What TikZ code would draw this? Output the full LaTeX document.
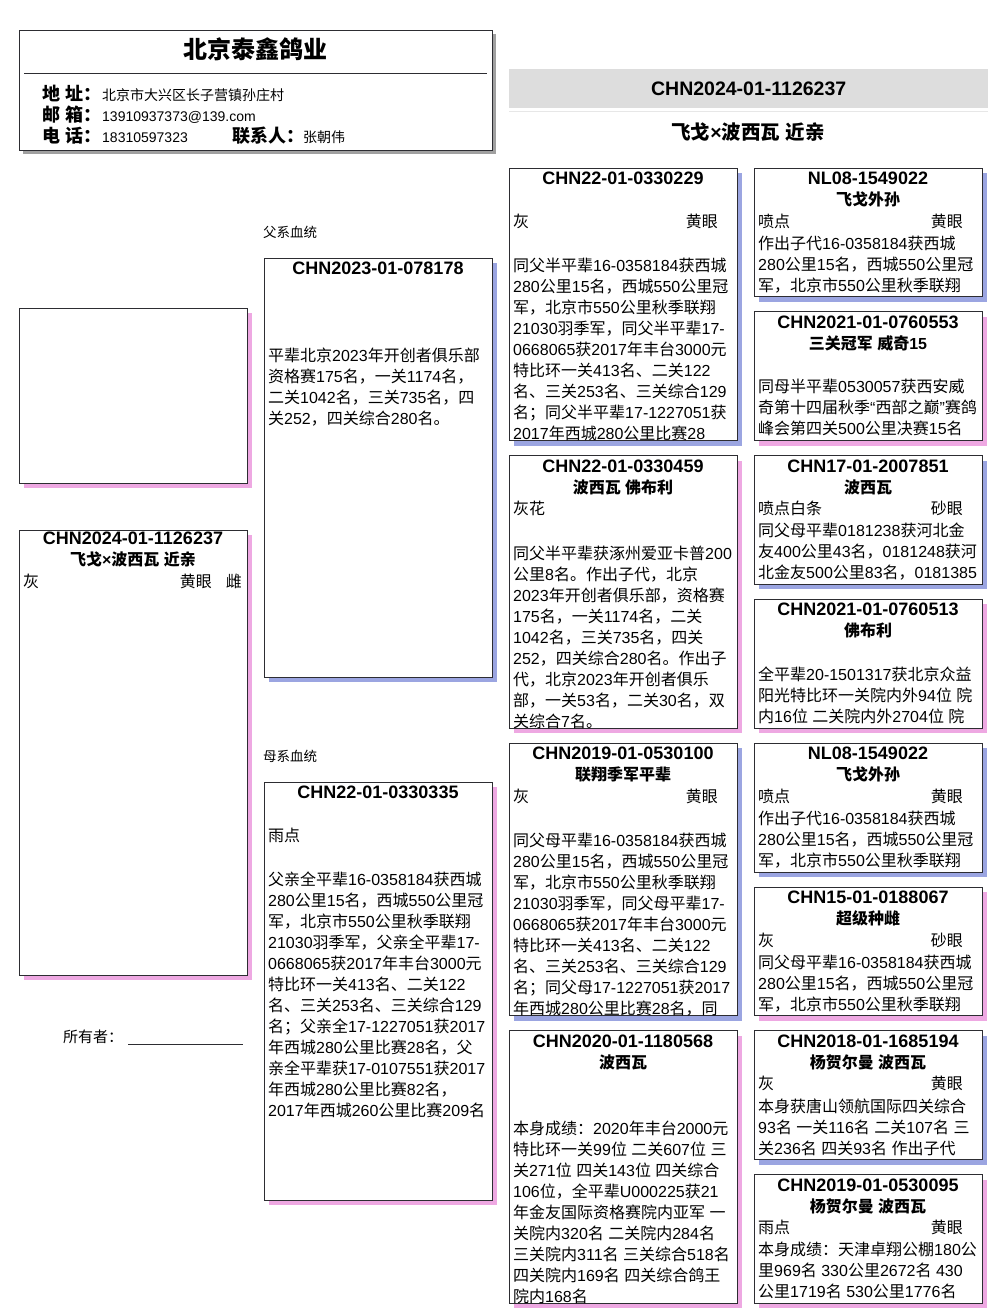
\documentclass[tikz,border=0pt]{standalone}
\usepackage{fontspec}
\setmainfont{Liberation Sans}
\newfontfamily\hanfont{Noto Sans CJK SC}
\newfontfamily\westfont{Liberation Sans}
\usetikzlibrary{positioning, shadows}
\definecolor{CardLine}{RGB}{45, 45, 50}
\definecolor{ShadowBlue}{RGB}{155, 165, 225}
\definecolor{ShadowPink}{RGB}{238, 168, 226}
\definecolor{ShadowGray}{RGB}{160, 160, 160}
\definecolor{BarGray}{RGB}{221, 221, 221}

% Han characters and CJK punctuation switch to the CJK face
\newXeTeXintercharclass\hanclass
\newcount\hanchar
\hanchar="3000 \loop\ifnum\hanchar<"3040 \XeTeXcharclass\hanchar=\hanclass \advance\hanchar by 1 \repeat
\hanchar="4E00 \loop\ifnum\hanchar<"A000 \XeTeXcharclass\hanchar=\hanclass \advance\hanchar by 1 \repeat
\hanchar="FF00 \loop\ifnum\hanchar<"FFF0 \XeTeXcharclass\hanchar=\hanclass \advance\hanchar by 1 \repeat
\XeTeXinterchartokenstate=1
\XeTeXinterchartoks 0 \hanclass = {\hanfont}
\XeTeXinterchartoks 4095 \hanclass = {\hanfont}
\XeTeXinterchartoks \hanclass 0 = {\westfont}
\XeTeXinterchartoks \hanclass 4095 = {\westfont}

\begin{document}
\begin{tikzpicture}[x=1pt, y=-1pt,
    card/.style={draw=CardLine, fill=white, line width=0.8pt, rectangle, inner sep=0pt, outer sep=0pt, minimum width=228pt, anchor=north west},
    sirecard/.style={card, drop shadow={shadow xshift=5pt, shadow yshift=-5pt, fill=ShadowBlue, opacity=1}},
    damcard/.style={card, drop shadow={shadow xshift=5pt, shadow yshift=-5pt, fill=ShadowPink, opacity=1}},
    ringno/.style={font=\fontsize{18}{22}\selectfont\bfseries, inner sep=0pt, anchor=base},
    birdname/.style={font=\fontsize{16}{21}\selectfont\bfseries, inner sep=0pt, anchor=base},
    trait/.style={font=\fontsize{16}{21}\selectfont, inner sep=0pt, anchor=base west},
    eyes/.style={trait, anchor=base east},
    record/.style={font=\fontsize{16}{21}\selectfont, align=left, inner sep=0pt, anchor=north west},
    label/.style={font=\fontsize{18}{22}\selectfont\bfseries, inner sep=0pt, anchor=base west},
    value/.style={font=\fontsize{14}{18}\selectfont, inner sep=0pt, anchor=base west}
  ]
  \useasboundingbox (0,0) rectangle (1006,1316);

  % Loft header
  \node [card, minimum width=473pt, minimum height=120pt, drop shadow={shadow xshift=4pt, shadow yshift=-4pt, fill=ShadowGray, opacity=1}] (head) at (19,30) {};
  \node [font=\fontsize{24}{28}\selectfont\bfseries, inner sep=0pt, anchor=base] (loft) at (255,59) {北京泰鑫鸽业};
  \draw [CardLine, line width=0.8pt] ([xshift=5pt, yshift=-43pt]head.north west) -- ([xshift=-5pt, yshift=-43pt]head.north east);
  \node [label] (addrlbl) at (42,101) {地 址：};
  \node [value] (addr) at (102,101) {北京市大兴区长子营镇孙庄村};
  \node [label] (maillbl) at (42,122) {邮 箱：};
  \node [value] (mail) at (102,122) {13910937373@139.com};
  \node [label] (tellbl) at (42,143) {电 话：};
  \node [value] (tel) at (102,143) {18310597323};
  \node [label] (contactlbl) at (232,143) {联系人：};
  \node [value] (contact) at (303,143) {张朝伟};

  % Title bar
  \node [fill=BarGray, minimum width=479pt, minimum height=39pt, inner sep=0pt, anchor=north west] (bar) at (509,69) {};
  \draw [BarGray!70, line width=1.5pt] ([yshift=-3pt]bar.south west) -- ([yshift=-3pt]bar.south east);
  \node [font=\fontsize{19.5}{24}\selectfont\bfseries, inner sep=0pt] (barid) at (bar.center) {CHN2024-01-1126237};
  \node [font=\fontsize{19.5}{24}\selectfont\bfseries, inner sep=0pt, anchor=base] (subtitle) at (748,140) {飞戈×波西瓦 近亲};

  % Generation 1
  \node [damcard, minimum height=175pt] (photo) at (19,308) {};
  \node [damcard, minimum height=445pt] (bird) at (19,530) {};
  \node [ringno] (birdid) at ([yshift=-14.5pt]bird.north) {CHN2024-01-1126237};
  \node [birdname] (birdnm) at ([yshift=-35pt]bird.north) {飞戈×波西瓦 近亲};
  \node [trait] (birdcol) at ([xshift=4pt, yshift=-57pt]bird.north west) {灰};
  \node [eyes] (birdeye) at ([xshift=-35pt, yshift=-57pt]bird.north east) {黄眼};
  \node [eyes] (birdsex) at ([xshift=-5pt, yshift=-57pt]bird.north east) {雌};
  \node [font=\fontsize{15}{18}\selectfont, inner sep=0pt, anchor=base west] (owner) at (63,1042) {所有者：};
  \draw [CardLine, line width=0.8pt] (128,1044) -- (243,1044);

  % Generation 2
  \node [font=\fontsize{13.5}{16}\selectfont, inner sep=0pt, anchor=base west] (sirelbl) at (263,237) {父系血统};
  \node [sirecard, minimum height=419pt] (sire) at (264,258) {};
  \node [ringno] (sireid) at ([yshift=-16.5pt]sire.north) {CHN2023-01-078178};
  \node [record] (sirerec) at ([xshift=4pt, yshift=-89.5pt]sire.north west) {平辈北京2023年开创者俱乐部\\
    资格赛175名，一关1174名，\\
    二关1042名，三关735名，四\\
    关252，四关综合280名。};

  \node [font=\fontsize{13.5}{16}\selectfont, inner sep=0pt, anchor=base west] (damlbl) at (263,761) {母系血统};
  \node [damcard, minimum height=418pt] (dam) at (264,782) {};
  \node [ringno] (damid) at ([yshift=-16pt]dam.north) {CHN22-01-0330335};
  \node [trait] (damcol) at ([xshift=4pt, yshift=-59pt]dam.north west) {雨点};
  \node [record] (damrec) at ([xshift=4pt, yshift=-89.5pt]dam.north west) {父亲全平辈16-0358184获西城\\
    280公里15名，西城550公里冠\\
    军，北京市550公里秋季联翔\\
    21030羽季军，父亲全平辈17-\\
    0668065获2017年丰台3000元\\
    特比环一关413名、二关122\\
    名、三关253名、三关综合129\\
    名；父亲全17-1227051获2017\\
    年西城280公里比赛28名，父\\
    亲全平辈获17-0107551获2017\\
    年西城280公里比赛82名，\\
    2017年西城260公里比赛209名};

  % Generation 3
  \node [sirecard, minimum height=272.5pt] (ss) at (509,168) {};
  \node [damcard, minimum height=272.5pt, below=15pt of ss] (sd) {};
  \node [sirecard, minimum height=272.5pt, below=15pt of sd] (ds) {};
  \node [damcard, minimum height=272.5pt, below=15pt of ds] (dd) {};

  \node [ringno] (ssid) at ([yshift=-16.5pt]ss.north) {CHN22-01-0330229};
  \node [trait] (sscol) at ([xshift=4pt, yshift=-59pt]ss.north west) {灰};
  \node [eyes] (sseye) at ([xshift=-19pt, yshift=-59pt]ss.north east) {黄眼};
  \begin{scope}
    \clip (ss.north west) rectangle (ss.south east);
    \node [record] (ssrec) at ([xshift=4pt, yshift=-90pt]ss.north west) {同父半平辈16-0358184获西城\\
      280公里15名，西城550公里冠\\
      军，北京市550公里秋季联翔\\
      21030羽季军，同父半平辈17-\\
      0668065获2017年丰台3000元\\
      特比环一关413名、二关122\\
      名、三关253名、三关综合129\\
      名；同父半平辈17-1227051获\\
      2017年西城280公里比赛28};
  \end{scope}

  \node [ringno] (sdid) at ([yshift=-16.5pt]sd.north) {CHN22-01-0330459};
  \node [birdname] (sdnm) at ([yshift=-37.5pt]sd.north) {波西瓦 佛布利};
  \node [trait] (sdcol) at ([xshift=4pt, yshift=-59pt]sd.north west) {灰花};
  \begin{scope}
    \clip (sd.north west) rectangle (sd.south east);
    \node [record] (sdrec) at ([xshift=4pt, yshift=-90pt]sd.north west) {同父半平辈获涿州爱亚卡普200\\
      公里8名。作出子代，北京\\
      2023年开创者俱乐部，资格赛\\
      175名，一关1174名，二关\\
      1042名，三关735名，四关\\
      252，四关综合280名。作出子\\
      代，北京2023年开创者俱乐\\
      部，一关53名，二关30名，双\\
      关综合7名。};
  \end{scope}

  \node [ringno] (dsid) at ([yshift=-16.5pt]ds.north) {CHN2019-01-0530100};
  \node [birdname] (dsnm) at ([yshift=-37.5pt]ds.north) {联翔季军平辈};
  \node [trait] (dscol) at ([xshift=4pt, yshift=-59pt]ds.north west) {灰};
  \node [eyes] (dseye) at ([xshift=-19pt, yshift=-59pt]ds.north east) {黄眼};
  \begin{scope}
    \clip (ds.north west) rectangle (ds.south east);
    \node [record] (dsrec) at ([xshift=4pt, yshift=-90pt]ds.north west) {同父母平辈16-0358184获西城\\
      280公里15名，西城550公里冠\\
      军，北京市550公里秋季联翔\\
      21030羽季军，同父母平辈17-\\
      0668065获2017年丰台3000元\\
      特比环一关413名、二关122\\
      名、三关253名、三关综合129\\
      名；同父母17-1227051获2017\\
      年西城280公里比赛28名，同};
  \end{scope}

  \node [ringno] (ddid) at ([yshift=-16.5pt]dd.north) {CHN2020-01-1180568};
  \node [birdname] (ddnm) at ([yshift=-37.5pt]dd.north) {波西瓦};
  \begin{scope}
    \clip (dd.north west) rectangle (dd.south east);
    \node [record] (ddrec) at ([xshift=4pt, yshift=-90pt]dd.north west) {本身成绩：2020年丰台2000元\\
      特比环一关99位 二关607位 三\\
      关271位 四关143位 四关综合\\
      106位，全平辈U000225获21\\
      年金友国际资格赛院内亚军 一\\
      关院内320名 二关院内284名\\
      三关院内311名 三关综合518名\\
      四关院内169名 四关综合鸽王\\
      院内168名};
  \end{scope}

  % Generation 4
  \node [sirecard, minimum height=128.8pt] (sss) at (754,168) {};
  \node [damcard, minimum height=128.8pt, below=15pt of sss] (ssd) {};
  \node [sirecard, minimum height=128.8pt, below=15pt of ssd] (sds) {};
  \node [damcard, minimum height=128.8pt, below=15pt of sds] (sdd) {};
  \node [sirecard, minimum height=128.8pt, below=15pt of sdd] (dss) {};
  \node [damcard, minimum height=128.8pt, below=15pt of dss] (dsd) {};
  \node [sirecard, minimum height=128.8pt, below=15pt of dsd] (dds) {};
  \node [damcard, minimum height=128.8pt, below=15pt of dds] (ddd) {};

  \node [ringno] (sssid) at ([yshift=-16.5pt]sss.north) {NL08-1549022};
  \node [birdname] (sssnm) at ([yshift=-37.5pt]sss.north) {飞戈外孙};
  \node [trait] (ssscol) at ([xshift=4pt, yshift=-59pt]sss.north west) {喷点};
  \node [eyes] (ssseye) at ([xshift=-19pt, yshift=-59pt]sss.north east) {黄眼};
  \node [record] (sssrec) at ([xshift=4pt, yshift=-67.5pt]sss.north west) {作出子代16-0358184获西城\\
    280公里15名，西城550公里冠\\
    军，北京市550公里秋季联翔};

  \node [ringno] (ssdid) at ([yshift=-16.5pt]ssd.north) {CHN2021-01-0760553};
  \node [birdname] (ssdnm) at ([yshift=-37.5pt]ssd.north) {三关冠军 威奇15};
  \node [record] (ssdrec) at ([xshift=4pt, yshift=-67.5pt]ssd.north west) {同母半平辈0530057获西安威\\
    奇第十四届秋季“西部之巅”赛鸽\\
    峰会第四关500公里决赛15名};

  \node [ringno] (sdsid) at ([yshift=-16.5pt]sds.north) {CHN17-01-2007851};
  \node [birdname] (sdsnm) at ([yshift=-37.5pt]sds.north) {波西瓦};
  \node [trait] (sdscol) at ([xshift=4pt, yshift=-59pt]sds.north west) {喷点白条};
  \node [eyes] (sdseye) at ([xshift=-19pt, yshift=-59pt]sds.north east) {砂眼};
  \node [record] (sdsrec) at ([xshift=4pt, yshift=-67.5pt]sds.north west) {同父母平辈0181238获河北金\\
    友400公里43名，0181248获河\\
    北金友500公里83名，0181385};

  \node [ringno] (sddid) at ([yshift=-16.5pt]sdd.north) {CHN2021-01-0760513};
  \node [birdname] (sddnm) at ([yshift=-37.5pt]sdd.north) {佛布利};
  \node [record] (sddrec) at ([xshift=4pt, yshift=-67.5pt]sdd.north west) {全平辈20-1501317获北京众益\\
    阳光特比环一关院内外94位 院\\
    内16位 二关院内外2704位 院};

  \node [ringno] (dssid) at ([yshift=-16.5pt]dss.north) {NL08-1549022};
  \node [birdname] (dssnm) at ([yshift=-37.5pt]dss.north) {飞戈外孙};
  \node [trait] (dsscol) at ([xshift=4pt, yshift=-59pt]dss.north west) {喷点};
  \node [eyes] (dsseye) at ([xshift=-19pt, yshift=-59pt]dss.north east) {黄眼};
  \node [record] (dssrec) at ([xshift=4pt, yshift=-67.5pt]dss.north west) {作出子代16-0358184获西城\\
    280公里15名，西城550公里冠\\
    军，北京市550公里秋季联翔};

  \node [ringno] (dsdid) at ([yshift=-16.5pt]dsd.north) {CHN15-01-0188067};
  \node [birdname] (dsdnm) at ([yshift=-37.5pt]dsd.north) {超级种雌};
  \node [trait] (dsdcol) at ([xshift=4pt, yshift=-59pt]dsd.north west) {灰};
  \node [eyes] (dsdeye) at ([xshift=-19pt, yshift=-59pt]dsd.north east) {砂眼};
  \node [record] (dsdrec) at ([xshift=4pt, yshift=-67.5pt]dsd.north west) {同父母平辈16-0358184获西城\\
    280公里15名，西城550公里冠\\
    军，北京市550公里秋季联翔};

  \node [ringno] (ddsid) at ([yshift=-16.5pt]dds.north) {CHN2018-01-1685194};
  \node [birdname] (ddsnm) at ([yshift=-37.5pt]dds.north) {杨贺尔曼 波西瓦};
  \node [trait] (ddscol) at ([xshift=4pt, yshift=-59pt]dds.north west) {灰};
  \node [eyes] (ddseye) at ([xshift=-19pt, yshift=-59pt]dds.north east) {黄眼};
  \node [record] (ddsrec) at ([xshift=4pt, yshift=-67.5pt]dds.north west) {本身获唐山领航国际四关综合\\
    93名 一关116名 二关107名 三\\
    关236名 四关93名 作出子代};

  \node [ringno] (dddid) at ([yshift=-16.5pt]ddd.north) {CHN2019-01-0530095};
  \node [birdname] (dddnm) at ([yshift=-37.5pt]ddd.north) {杨贺尔曼 波西瓦};
  \node [trait] (dddcol) at ([xshift=4pt, yshift=-59pt]ddd.north west) {雨点};
  \node [eyes] (dddeye) at ([xshift=-19pt, yshift=-59pt]ddd.north east) {黄眼};
  \node [record] (dddrec) at ([xshift=4pt, yshift=-67.5pt]ddd.north west) {本身成绩：天津卓翔公棚180公\\
    里969名 330公里2672名 430\\
    公里1719名 530公里1776名};
\end{tikzpicture}
\end{document}
